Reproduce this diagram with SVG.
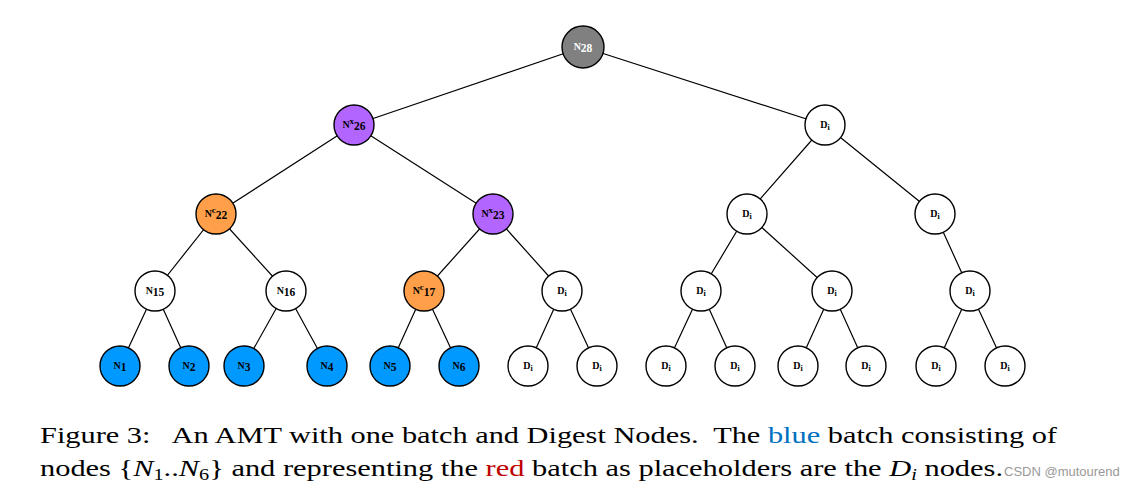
<svg xmlns="http://www.w3.org/2000/svg" width="1147" height="488" viewBox="0 0 1147 488">
<style>
.n{stroke:#000;stroke-width:1.4}
.w{fill:#fff}.g{fill:#808080}.p{fill:#b266ff}.o{fill:#ff9f4a}.b{fill:#0099ff}
.t{font-family:"Liberation Serif","DejaVu Serif",serif;font-weight:bold;font-size:10px;text-anchor:middle;fill:#000}
.s{font-size:11.5px}
.e{stroke:#000;stroke-width:1.2;fill:none}
.cap{font-family:"Liberation Serif","DejaVu Serif",serif;font-size:24px;fill:#000}
</style>
<rect width="1147" height="488" fill="#fff"/>
<g id="connectors" class="e">
<path d="M583 47L354 125M583 47L825 125M354 125L216 214M354 125L493 214M825 125L747 214M825 125L935 214M216 214L155 291M216 214L286 291M493 214L424 291M493 214L562 291M747 214L701 291M747 214L832 291M935 214L970 291M155 291L120 366M155 291L189 366M286 291L244 366M286 291L327 366M424 291L390 366M424 291L459 366M562 291L528 366M562 291L597 366M701 291L666 366M701 291L735 366M832 291L798 366M832 291L866 366M970 291L936 366M970 291L1005 366"/>
</g>
<g id="n28"><circle class="n g" cx="583" cy="47" r="21"/><text class="t" x="583" y="50" style="fill:#fff">N<tspan class="s" dy="2">28</tspan></text></g>
<g id="nx26"><circle class="n p" cx="354" cy="125" r="20"/><text class="t" x="354" y="128">N<tspan font-size="9" dy="-4">x</tspan><tspan class="s" dy="6">26</tspan></text></g>
<g id="d1"><circle class="n w" cx="825" cy="125" r="20"/><text class="t" x="825" y="128">D<tspan font-size="8" dy="2">i</tspan></text></g>
<g id="nc22"><circle class="n o" cx="216" cy="214" r="20"/><text class="t" x="216" y="217">N<tspan font-size="9" dy="-4">c</tspan><tspan class="s" dy="6">22</tspan></text></g>
<g id="nx23"><circle class="n p" cx="493" cy="214" r="20"/><text class="t" x="493" y="217">N<tspan font-size="9" dy="-4">x</tspan><tspan class="s" dy="6">23</tspan></text></g>
<g id="d2"><circle class="n w" cx="747" cy="214" r="20"/><text class="t" x="747" y="217">D<tspan font-size="8" dy="2">i</tspan></text></g>
<g id="d3"><circle class="n w" cx="935" cy="214" r="20"/><text class="t" x="935" y="217">D<tspan font-size="8" dy="2">i</tspan></text></g>
<g id="n15"><circle class="n w" cx="155" cy="291" r="20"/><text class="t" x="155" y="294">N<tspan class="s" dy="2">15</tspan></text></g>
<g id="n16"><circle class="n w" cx="286" cy="291" r="20"/><text class="t" x="286" y="294">N<tspan class="s" dy="2">16</tspan></text></g>
<g id="nc17"><circle class="n o" cx="424" cy="291" r="20"/><text class="t" x="424" y="294">N<tspan font-size="9" dy="-4">c</tspan><tspan class="s" dy="6">17</tspan></text></g>
<g id="d4"><circle class="n w" cx="562" cy="291" r="20"/><text class="t" x="562" y="294">D<tspan font-size="8" dy="2">i</tspan></text></g>
<g id="d5"><circle class="n w" cx="701" cy="291" r="20"/><text class="t" x="701" y="294">D<tspan font-size="8" dy="2">i</tspan></text></g>
<g id="d6"><circle class="n w" cx="832" cy="291" r="20"/><text class="t" x="832" y="294">D<tspan font-size="8" dy="2">i</tspan></text></g>
<g id="d7"><circle class="n w" cx="970" cy="291" r="20"/><text class="t" x="970" y="294">D<tspan font-size="8" dy="2">i</tspan></text></g>
<g id="n1"><circle class="n b" cx="120" cy="366" r="20"/><text class="t" x="120" y="369">N<tspan class="s" dy="2">1</tspan></text></g>
<g id="n2"><circle class="n b" cx="189" cy="366" r="20"/><text class="t" x="189" y="369">N<tspan class="s" dy="2">2</tspan></text></g>
<g id="n3"><circle class="n b" cx="244" cy="366" r="20"/><text class="t" x="244" y="369">N<tspan class="s" dy="2">3</tspan></text></g>
<g id="n4"><circle class="n b" cx="327" cy="366" r="20"/><text class="t" x="327" y="369">N<tspan class="s" dy="2">4</tspan></text></g>
<g id="n5"><circle class="n b" cx="390" cy="366" r="20"/><text class="t" x="390" y="369">N<tspan class="s" dy="2">5</tspan></text></g>
<g id="n6"><circle class="n b" cx="459" cy="366" r="20"/><text class="t" x="459" y="369">N<tspan class="s" dy="2">6</tspan></text></g>
<g id="d8"><circle class="n w" cx="528" cy="366" r="20"/><text class="t" x="528" y="369">D<tspan font-size="8" dy="2">i</tspan></text></g>
<g id="d9"><circle class="n w" cx="597" cy="366" r="20"/><text class="t" x="597" y="369">D<tspan font-size="8" dy="2">i</tspan></text></g>
<g id="d10"><circle class="n w" cx="666" cy="366" r="20"/><text class="t" x="666" y="369">D<tspan font-size="8" dy="2">i</tspan></text></g>
<g id="d11"><circle class="n w" cx="735" cy="366" r="20"/><text class="t" x="735" y="369">D<tspan font-size="8" dy="2">i</tspan></text></g>
<g id="d12"><circle class="n w" cx="798" cy="366" r="20"/><text class="t" x="798" y="369">D<tspan font-size="8" dy="2">i</tspan></text></g>
<g id="d13"><circle class="n w" cx="866" cy="366" r="20"/><text class="t" x="866" y="369">D<tspan font-size="8" dy="2">i</tspan></text></g>
<g id="d14"><circle class="n w" cx="936" cy="366" r="20"/><text class="t" x="936" y="369">D<tspan font-size="8" dy="2">i</tspan></text></g>
<g id="d15"><circle class="n w" cx="1005" cy="366" r="20"/><text class="t" x="1005" y="369">D<tspan font-size="8" dy="2">i</tspan></text></g>
<g id="caption">
<text class="cap" x="40" y="443" textLength="1017" lengthAdjust="spacingAndGlyphs" xml:space="preserve">Figure 3:   An AMT with one batch and Digest Nodes.  The <tspan fill="#0070c0">blue</tspan> batch consisting of</text>
<text class="cap" x="40" y="476" textLength="963" lengthAdjust="spacingAndGlyphs">nodes {<tspan font-style="italic">N</tspan><tspan font-size="16" dy="4">1</tspan><tspan dy="-4">..</tspan><tspan font-style="italic">N</tspan><tspan font-size="16" dy="4">6</tspan><tspan dy="-4">} and representing the </tspan><tspan fill="#c00000">red</tspan> batch as placeholders are the <tspan font-style="italic">D</tspan><tspan font-size="16" font-style="italic" dy="4">i</tspan><tspan dy="-4"> nodes.</tspan></text>
<text x="1004" y="476" font-family="Liberation Sans, Arial, sans-serif" font-size="13" fill="#999">CSDN @mutourend</text>
</g>
</svg>
